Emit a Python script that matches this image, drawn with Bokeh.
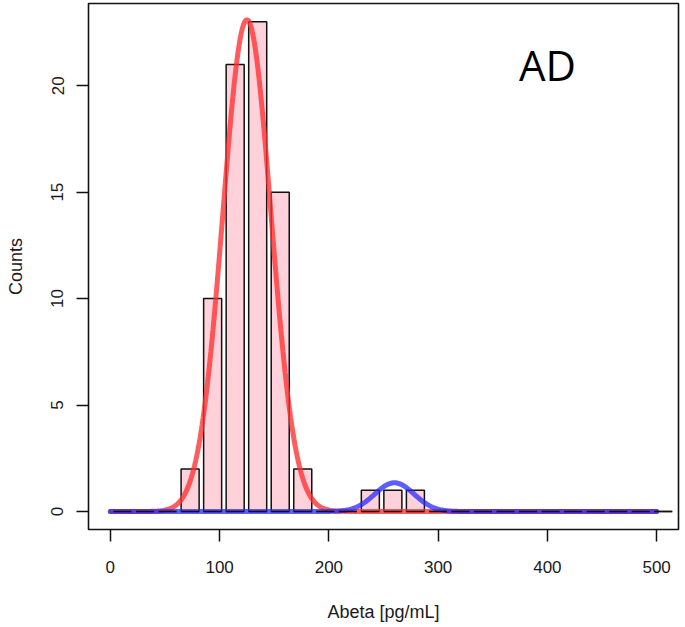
import numpy as np
from bokeh.plotting import figure
from bokeh.models import Range1d, FixedTicker, Label, ColumnDataSource
from bokeh.embed import file_html
from bokeh.resources import INLINE

# ---- data ----
counts = [0, 0, 0, 2, 10, 21, 23, 15, 2, 0, 0, 1, 1, 1, 0, 0, 0, 0, 0, 0, 0, 0, 0, 0, 0]
bin_start = 0.83
bin_width = 20.62
bar_fraction = 0.80
x_ticks = [0, 100, 200, 300, 400, 500]
y_ticks = [0, 5, 10, 15, 20]
red_mu, red_sd, red_amp = 125.0, 22.0, 23.1
blue_mu, blue_sd, blue_amp = 260.0, 18.0, 1.35
curve_x_min, curve_x_max = 0, 500
x_label = "Abeta [pg/mL]"
y_label = "Counts"
panel_label = "AD"

FONT = "Liberation Sans"

p = figure(width=685, height=624, output_backend="svg", toolbar_location=None,
           x_range=Range1d(-20, 520), y_range=Range1d(-0.844, 23.86),
           min_border_left=88, min_border_right=7, min_border_top=3, min_border_bottom=94)
p.grid.visible = False
p.background_fill_color = "white"
p.border_fill_color = "white"
p.outline_line_color = "#111111"
p.outline_line_width = 1.6

# bars
k = np.arange(len(counts))
centers = bin_start + bin_width * (k + 0.5)
half = bin_width * bar_fraction / 2
src = ColumnDataSource(dict(left=centers - half, right=centers + half,
                            top=np.array(counts, dtype=float), bottom=np.zeros(len(counts))))
p.quad(left="left", right="right", top="top", bottom="bottom", source=src,
       fill_color="#ffd1da", line_color="#111111", line_width=1.5)

# fitted curves
xs = np.linspace(curve_x_min, curve_x_max, 501)
red_y = red_amp * np.exp(-0.5 * ((xs - red_mu) / red_sd) ** 2)
blue_y = blue_amp * np.exp(-0.5 * ((xs - blue_mu) / blue_sd) ** 2)
p.line(xs, red_y, line_color="#ff3030", line_alpha=0.78, line_width=5, line_cap="round")
p.line(xs, blue_y, line_color="#2828ff", line_alpha=0.75, line_width=5, line_cap="round")

# zero-height bar outlines along baseline
p.segment(x0="left", x1="right", y0="bottom", y1="bottom", source=src,
          line_color="#111111", line_width=1.5)

# axes
for ax in (p.xaxis[0], p.yaxis[0]):
    ax.axis_line_color = None
    ax.major_tick_in = 0
    ax.major_tick_out = 12
    ax.major_tick_line_color = "#111111"
    ax.major_tick_line_width = 1.5
    ax.minor_tick_line_color = None
    ax.major_label_text_font = FONT
    ax.major_label_text_font_size = "17px"
    ax.major_label_text_color = "#1a1a1a"
    ax.axis_label_text_font = FONT
    ax.axis_label_text_font_size = "18px"
    ax.axis_label_text_font_style = "normal"
    ax.axis_label_text_color = "#1a1a1a"

p.xaxis.ticker = FixedTicker(ticks=x_ticks)
p.yaxis.ticker = FixedTicker(ticks=y_ticks)
p.xaxis.axis_label = x_label
p.yaxis.axis_label = y_label
p.xaxis.major_label_standoff = 19
p.xaxis.axis_label_standoff = 26
p.yaxis.major_label_standoff = 13
p.yaxis.axis_label_standoff = 23
p.yaxis.major_label_orientation = "vertical"

p.add_layout(Label(x=374, y=21.0, text=panel_label, text_font="Open Sans",
                   text_font_size="42px", text_color="black", text_baseline="alphabetic"))

open("out.html", "w").write(file_html(p, INLINE))
